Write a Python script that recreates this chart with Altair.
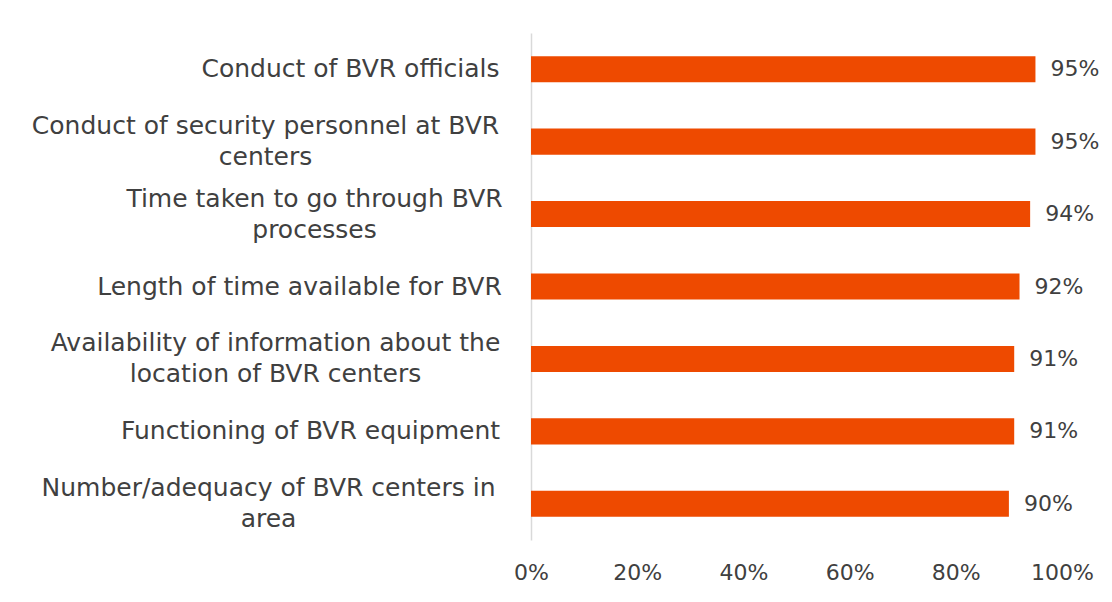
import altair as alt
import pandas as pd

# Data
categories = [
    "Conduct of BVR officials",
    "Conduct of security personnel at BVR|centers",
    "Time taken to go through BVR|processes",
    "Length of time available for BVR",
    "Availability of information about the|location of BVR centers",
    "Functioning of BVR equipment",
    "Number/adequacy of BVR centers in|area",
]
values = [0.95, 0.95, 0.94, 0.92, 0.91, 0.91, 0.90]
value_labels = ["95%", "95%", "94%", "92%", "91%", "91%", "90%"]
x_ticks = [0, 0.2, 0.4, 0.6, 0.8, 1.0]

# label centring (distance from axis to the centre of each wrapped label)
label_pad = {
    "Conduct of BVR officials": 181,
    "Conduct of security personnel at BVR|centers": 266,
    "Time taken to go through BVR|processes": 217,
    "Length of time available for BVR": 232,
    "Availability of information about the|location of BVR centers": 256,
    "Functioning of BVR equipment": 221,
    "Number/adequacy of BVR centers in|area": 263,
}

df = pd.DataFrame({"cat": categories, "val": values, "lab": value_labels})

FONT = "DejaVu Sans"
BAR = "#EE4A00"
TXT = "#404040"
LINE_H = 31

pad_cond = [
    {"test": f"datum.value == '{k}'", "value": v} for k, v in label_pad.items()
]

y_enc = alt.Y(
    "cat:N",
    sort=categories,
    title=None,
    scale=alt.Scale(paddingInner=0.64, paddingOuter=0.32),
    axis=alt.Axis(
        labelExpr="split(datum.label, '|')",
        labelAlign="center",
        labelBaseline="middle",
        labelPadding={"condition": pad_cond, "value": 200},
        labelOffset={
            "condition": {"test": "indexof(datum.value, '|') >= 0", "value": -LINE_H / 2},
            "value": 0,
        },
        labelFont=FONT,
        labelFontSize=25,
        labelColor=TXT,
        labelLineHeight=LINE_H,
        labelLimit=600,
        ticks=False,
        tickSize=0,
        domain=True,
        domainColor="#D9D9D9",
        domainWidth=1.5,
        grid=False,
    ),
)

x_enc = alt.X(
    "val:Q",
    title=None,
    scale=alt.Scale(domain=[0, 1], nice=False),
    axis=alt.Axis(
        values=x_ticks,
        format=".0%",
        labelFont=FONT,
        labelFontSize=22,
        labelColor=TXT,
        labelPadding=22,
        ticks=False,
        domain=False,
        grid=False,
        labelFlush=False,
    ),
)

bars = alt.Chart(df).mark_bar(color=BAR).encode(y=y_enc, x=x_enc)

text = alt.Chart(df).mark_text(
    align="left", baseline="middle", dx=15, font=FONT, fontSize=22, color=TXT
).encode(y=alt.Y("cat:N", sort=categories), x="val:Q", text="lab:N")

chart = (
    alt.layer(bars, text)
    .properties(
        width=531,
        height=507,
        padding={"left": 523, "top": 25, "right": 42, "bottom": 54},
        autosize=alt.AutoSizeParams(type="none"),
        background="white",
    )
    .configure_view(strokeWidth=0)
)

chart.save("out.html", embed_options={"renderer": "svg", "actions": False})
